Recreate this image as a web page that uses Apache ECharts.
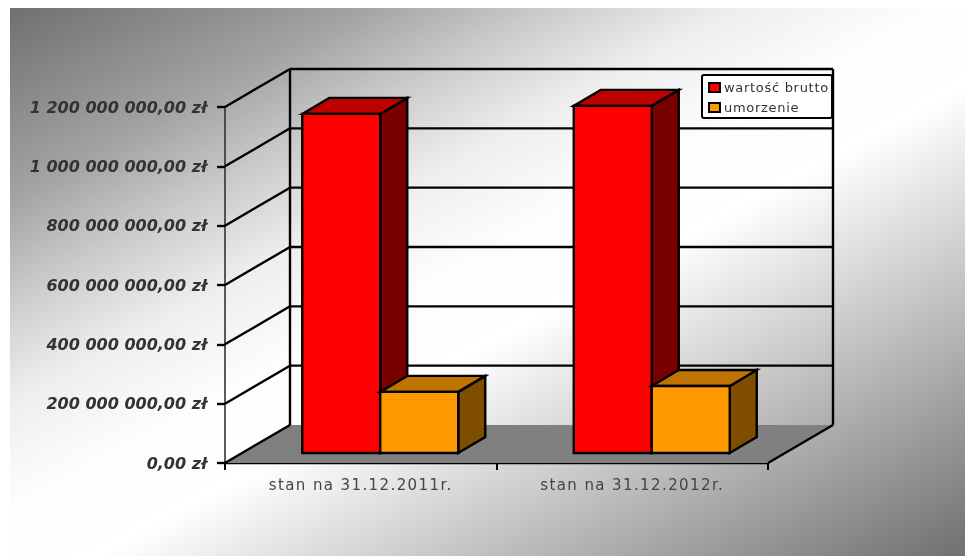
<!DOCTYPE html>
<html><head><meta charset="utf-8">
<style>html,body{margin:0;padding:0;background:#fff}#c{width:965px;height:556px;filter:blur(0.55px)}
#c text[style*="15px"]{letter-spacing:1.4px}
#c text[style*="13px"]{letter-spacing:0.7px}
</style>
<script src="https://cdn.jsdelivr.net/npm/echarts@6/dist/echarts.min.js"></script>
</head><body><div id="c"></div>
<script>
const categories = ['stan na 31.12.2011r.', 'stan na 31.12.2012r.'];
const seriesNames = ['wartość brutto', 'umorzenie'];
const grossValues = [1143000000, 1170000000];
const writeOffValues = [206000000, 226000000];
const valueTicks = [0, 200000000, 400000000, 600000000, 800000000, 1000000000, 1200000000];

const WALL = [65, -38], PLANE = [19.5, -10], DEPTH = [27, -16], BAR_W = 78;
const LINE = {stroke: '#000', lineWidth: 2.4};

function line(a, b, style) {
  return {type: 'line', shape: {x1: a[0], y1: a[1], x2: b[0], y2: b[1]}, style: style || LINE};
}
function poly(points, fill) {
  return {type: 'polygon', shape: {points}, style: {fill, stroke: '#000', lineWidth: 2.4, lineJoin: 'miter'}};
}
function wallItem(params, api) {
  const g = params.coordSys, v = api.value(0), y = api.coord([0, v])[1];
  const x0 = g.x, x1 = g.x + g.width;
  const ch = [];
  if (v === 0) {
    ch.push({type: 'polygon', shape: {points: [[x0, y], [x1, y], [x1 + WALL[0], y + WALL[1]], [x0 + WALL[0], y + WALL[1]]]}, style: {fill: '#808080'}});
    ch.push(line([x0 + WALL[0], y + WALL[1]], [x0 + WALL[0], g.y + WALL[1]]));
    ch.push(line([x1 + WALL[0], y + WALL[1]], [x1 + WALL[0], g.y + WALL[1]]));
    ch.push(line([x1, y], [x1 + WALL[0], y + WALL[1]]));
  }
  ch.push(line([x0, y], [x0 + WALL[0], y + WALL[1]]));
  if (v !== 0) ch.push(line([x0 + WALL[0], y + WALL[1]], [x1 + WALL[0], y + WALL[1]]));
  return {type: 'group', children: ch};
}
function barRenderer(side, front, top, right) {
  return function (params, api) {
    const i = api.value(0), t = api.coord([i, api.value(1)]), b = api.coord([i, 0]);
    const xa = t[0] + PLANE[0] + (side < 0 ? -BAR_W : 0), xb = xa + BAR_W;
    const yt = t[1] + PLANE[1], yb = b[1] + PLANE[1];
    return {type: 'group', children: [
      poly([[xb, yt], [xb + DEPTH[0], yt + DEPTH[1]], [xb + DEPTH[0], yb + DEPTH[1]], [xb, yb]], right),
      poly([[xa, yt], [xa + DEPTH[0], yt + DEPTH[1]], [xb + DEPTH[0], yt + DEPTH[1]], [xb, yt]], top),
      poly([[xa, yt], [xb, yt], [xb, yb], [xa, yb]], front)
    ]};
  };
}
const labelFont = {fontFamily: 'DejaVu Sans'};
const chart = echarts.init(document.getElementById('c'), null, {renderer: 'svg'});
chart.setOption({
  animation: false,
  backgroundColor: '#fff',
  graphic: [{
    type: 'rect', z: -10, silent: true,
    shape: {x: 10, y: 8, width: 955, height: 548},
    style: {fill: {type: 'linear', global: true, x: 10, y: 8, x2: 455.5, y2: 830.7,
      colorStops: [{offset: 0, color: '#707070'}, {offset: 0.18, color: '#a3a3a3'}, {offset: 0.275, color: '#cbcbcb'}, {offset: 0.37, color: '#eeeeee'}, {offset: 0.47, color: '#fdfdfd'}, {offset: 0.56, color: '#ffffff'}, {offset: 1, color: '#707070'}]}}
  }],
  grid: {left: 225, right: 197, top: 107, bottom: 93, containLabel: false},
  legend: {
    orient: 'vertical', left: 702, top: 75, icon: 'rect',
    data: seriesNames, padding: [6, 13, 4, 6], itemGap: 7, itemWidth: 11, itemHeight: 9,
    backgroundColor: '#fff', borderColor: '#000', borderWidth: 2, borderRadius: 2,
    itemStyle: {borderColor: '#000', borderWidth: 2},
    textStyle: {...labelFont, fontSize: 13, color: '#333', padding: [0, 0, 0, -1]}
  },
  xAxis: {
    type: 'category', data: categories, boundaryGap: true,
    axisLine: {lineStyle: {color: '#000', width: 2.4}},
    axisTick: {show: true, length: 7, lineStyle: {color: '#000', width: 2}},
    axisLabel: {...labelFont, fontSize: 15, color: '#444', margin: 14}
  },
  yAxis: {
    type: 'value', min: 0, max: 1200000000, interval: 200000000,
    splitLine: {show: false},
    axisLine: {show: true, lineStyle: {color: '#333', width: 1.6}},
    axisTick: {show: true, length: 8, lineStyle: {color: '#000', width: 2.4}},
    axisLabel: {
      ...labelFont, fontSize: 16, fontWeight: 'bold', fontStyle: 'italic', color: '#333', margin: 18,
      formatter: v => String(v).replace(/\B(?=(\d{3})+$)/g, ' ') + ',00 zł'
    }
  },
  series: [
    {type: 'custom', name: 'walls', silent: true, z: 1, data: valueTicks.map(v => [v]), encode: {y: 0}, renderItem: wallItem},
    {type: 'custom', name: seriesNames[0], silent: true, z: 2, itemStyle: {color: '#ff0000'},
      data: grossValues.map((v, i) => [i, v]), encode: {x: 0, y: 1},
      renderItem: barRenderer(-1, '#ff0000', '#bf0000', '#7a0000')},
    {type: 'custom', name: seriesNames[1], silent: true, z: 3, itemStyle: {color: '#ff9900'},
      data: writeOffValues.map((v, i) => [i, v]), encode: {x: 0, y: 1},
      renderItem: barRenderer(1, '#ff9900', '#bf7300', '#7f4d00')}
  ]
});
</script></body></html>
